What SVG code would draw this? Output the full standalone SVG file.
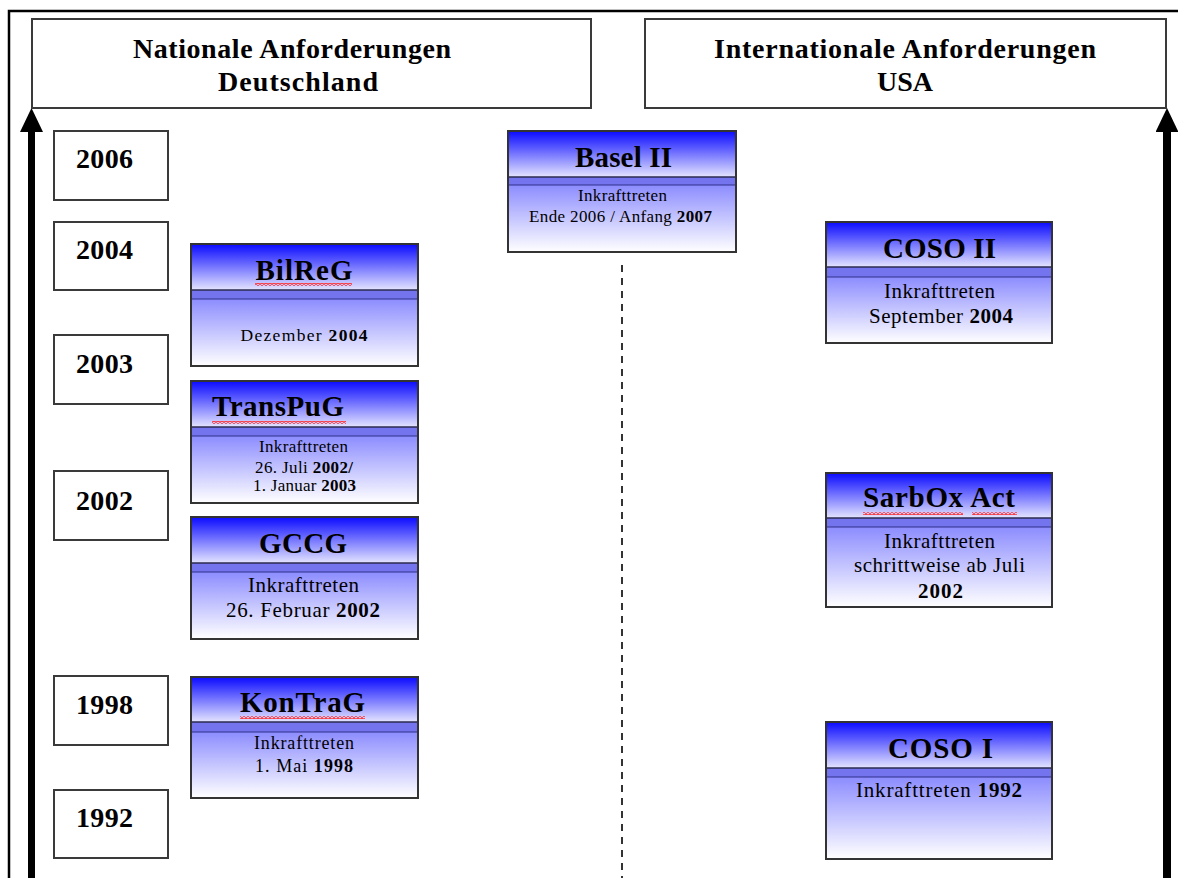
<svg xmlns="http://www.w3.org/2000/svg" width="1178" height="878" viewBox="0 0 1178 878">
<style>
text{font-family:"Liberation Serif","Times New Roman",serif;fill:#000}
.hd{font-size:28px;font-weight:bold;text-anchor:middle}
.yr{font-size:28px;font-weight:bold}
.tt{font-size:29px;font-weight:bold;text-anchor:middle}
.bd{text-anchor:middle}
.b{font-weight:bold}
.box{fill:#fff;stroke:#3a3a3a;stroke-width:2}
.out{fill:none;stroke:#333;stroke-width:2}
.l1{stroke:#2a2a50;stroke-width:1.5}
.l2{stroke:#30308a;stroke-width:1.2}
.band{fill:#7474ee}
.sq{fill:url(#sq)}
</style>
<defs>
<linearGradient id="gh" x1="0" y1="0" x2="0" y2="1"><stop offset="0" stop-color="#0a0aff"/><stop offset="1" stop-color="#e4e4ff"/></linearGradient>
<linearGradient id="gb" x1="0" y1="0" x2="0" y2="1"><stop offset="0" stop-color="#8c8cff"/><stop offset="1" stop-color="#ffffff"/></linearGradient>
<pattern id="sq" width="4" height="3" patternUnits="userSpaceOnUse"><path d="M0,2.5 L2,0.5 L4,2.5" fill="none" stroke="#ff2a2a" stroke-width="1.1"/></pattern>
<marker id="ah" viewBox="0 0 24 23" refX="1" refY="11.5" markerWidth="24" markerHeight="23" markerUnits="userSpaceOnUse" orient="auto"><path d="M0,0 L24,11.5 L0,23 z" fill="#000"/></marker>
</defs>
<rect width="1178" height="878" fill="#fff"/>
<path d="M9,878 V11 H1178" fill="none" stroke="#000" stroke-width="2.5"/>

<g id="connectors">
<line x1="31.5" y1="878" x2="31.5" y2="131" stroke="#000" stroke-width="7" marker-end="url(#ah)"/>
<line x1="1167" y1="878" x2="1167" y2="131" stroke="#000" stroke-width="8" marker-end="url(#ah)"/>
<line x1="622" y1="265" x2="622" y2="878" stroke="#333" stroke-width="2" stroke-dasharray="7 6"/>
</g>

<g id="header-de">
<rect class="box" x="32" y="19" width="559" height="89"/>
<text class="hd" x="292" y="58" textLength="318">Nationale Anforderungen</text>
<text class="hd" x="298" y="91" textLength="160">Deutschland</text>
</g>
<g id="header-us">
<rect class="box" x="645" y="19" width="521" height="89"/>
<text class="hd" x="905" y="58" textLength="382">Internationale Anforderungen</text>
<text class="hd" x="905" y="91" textLength="56">USA</text>
</g>

<g id="y2006"><rect class="box" x="54" y="131" width="114" height="69"/><text class="yr" x="76" y="168" textLength="57">2006</text></g>
<g id="y2004"><rect class="box" x="54" y="222" width="114" height="68"/><text class="yr" x="76" y="259" textLength="57">2004</text></g>
<g id="y2003"><rect class="box" x="54" y="335" width="114" height="69"/><text class="yr" x="76" y="373" textLength="57">2003</text></g>
<g id="y2002"><rect class="box" x="54" y="471" width="114" height="69"/><text class="yr" x="76" y="510" textLength="57">2002</text></g>
<g id="y1998"><rect class="box" x="54" y="676" width="114" height="69"/><text class="yr" x="76" y="714" textLength="57">1998</text></g>
<g id="y1992"><rect class="box" x="54" y="790" width="114" height="68"/><text class="yr" x="76" y="827" textLength="57">1992</text></g>

<g id="bilreg">
<rect x="191" y="244" width="227" height="46" fill="url(#gh)"/>
<rect class="band" x="191" y="290" width="227" height="9"/>
<rect x="191" y="299" width="227" height="67" fill="url(#gb)"/>
<line class="l1" x1="191" y1="290" x2="418" y2="290"/><line class="l2" x1="191" y1="299" x2="418" y2="299"/>
<rect class="out" x="191" y="244" width="227" height="122"/>
<text class="tt" x="304" y="280" textLength="97">BilReG</text>
<rect class="sq" x="255" y="283" width="97" height="3"/>
<text class="bd" x="304" y="341" font-size="17.5" textLength="127">Dezember <tspan class="b">2004</tspan></text>
</g>

<g id="transpug">
<rect x="191" y="381" width="227" height="46" fill="url(#gh)"/>
<rect class="band" x="191" y="427" width="227" height="9"/>
<rect x="191" y="436" width="227" height="67" fill="url(#gb)"/>
<line class="l1" x1="191" y1="427" x2="418" y2="427"/><line class="l2" x1="191" y1="436" x2="418" y2="436"/>
<rect class="out" x="191" y="381" width="227" height="122"/>
<text x="212" y="416" font-size="29" font-weight="bold" textLength="132">TransPuG</text>
<rect class="sq" x="212" y="421" width="134" height="3"/>
<text class="bd" x="303.5" y="452" font-size="17" textLength="89">Inkrafttreten</text>
<text class="bd" x="304" y="473" font-size="17" textLength="98">26. Juli <tspan class="b">2002/</tspan></text>
<text class="bd" x="304.5" y="491" font-size="17" textLength="103">1. Januar <tspan class="b">2003</tspan></text>
</g>

<g id="gccg">
<rect x="191" y="517" width="227" height="46" fill="url(#gh)"/>
<rect class="band" x="191" y="563" width="227" height="9"/>
<rect x="191" y="572" width="227" height="67" fill="url(#gb)"/>
<line class="l1" x1="191" y1="563" x2="418" y2="563"/><line class="l2" x1="191" y1="572" x2="418" y2="572"/>
<rect class="out" x="191" y="517" width="227" height="122"/>
<text class="tt" x="303" y="553" textLength="88">GCCG</text>
<text class="bd" x="303.5" y="592" font-size="21" textLength="111">Inkrafttreten</text>
<text class="bd" x="303" y="617" font-size="21" textLength="154">26. Februar <tspan class="b">2002</tspan></text>
</g>

<g id="kontrag">
<rect x="191" y="677" width="227" height="45" fill="url(#gh)"/>
<rect class="band" x="191" y="722" width="227" height="10"/>
<rect x="191" y="732" width="227" height="66" fill="url(#gb)"/>
<line class="l1" x1="191" y1="722" x2="418" y2="722"/><line class="l2" x1="191" y1="732" x2="418" y2="732"/>
<rect class="out" x="191" y="677" width="227" height="121"/>
<text class="tt" x="302.5" y="712" textLength="125">KonTraG</text>
<rect class="sq" x="240" y="716" width="125" height="3"/>
<text class="bd" x="304" y="749" font-size="18" textLength="100">Inkrafttreten</text>
<text class="bd" x="304" y="772" font-size="18" textLength="98">1. Mai <tspan class="b">1998</tspan></text>
</g>

<g id="basel2">
<rect x="508" y="131" width="228" height="46" fill="url(#gh)"/>
<rect class="band" x="508" y="177" width="228" height="8"/>
<rect x="508" y="185" width="228" height="67" fill="url(#gb)"/>
<line class="l1" x1="508" y1="177" x2="736" y2="177"/><line class="l2" x1="508" y1="185" x2="736" y2="185"/>
<rect class="out" x="508" y="131" width="228" height="121"/>
<text class="tt" x="623.5" y="167" textLength="97">Basel II</text>
<text class="bd" x="622.5" y="201" font-size="17" textLength="89">Inkrafttreten</text>
<text class="bd" x="620.5" y="222" font-size="17" textLength="183">Ende 2006 / Anfang <tspan class="b">2007</tspan></text>
</g>

<g id="coso2">
<rect x="826" y="222" width="226" height="45" fill="url(#gh)"/>
<rect class="band" x="826" y="267" width="226" height="10"/>
<rect x="826" y="277" width="226" height="66" fill="url(#gb)"/>
<line class="l1" x1="826" y1="267" x2="1052" y2="267"/><line class="l2" x1="826" y1="277" x2="1052" y2="277"/>
<rect class="out" x="826" y="222" width="226" height="121"/>
<text class="tt" x="939.5" y="258" textLength="113">COSO II</text>
<text class="bd" x="939.5" y="298" font-size="21" textLength="111">Inkrafttreten</text>
<text class="bd" x="941" y="323" font-size="21" textLength="144">September <tspan class="b">2004</tspan></text>
</g>

<g id="sarbox">
<rect x="826" y="473" width="226" height="45" fill="url(#gh)"/>
<rect class="band" x="826" y="518" width="226" height="9"/>
<rect x="826" y="527" width="226" height="80" fill="url(#gb)"/>
<line class="l1" x1="826" y1="518" x2="1052" y2="518"/><line class="l2" x1="826" y1="527" x2="1052" y2="527"/>
<rect class="out" x="826" y="473" width="226" height="134"/>
<text class="tt" x="939" y="507" textLength="152">SarbOx Act</text>
<rect class="sq" x="863" y="512" width="100" height="3"/>
<rect class="sq" x="972" y="512" width="45" height="3"/>
<text class="bd" x="939.5" y="548" font-size="21" textLength="111">Inkrafttreten</text>
<text class="bd" x="939.5" y="572" font-size="21" textLength="171">schrittweise ab Juli</text>
<text class="bd b" x="940.5" y="598" font-size="21" textLength="45">2002</text>
</g>

<g id="coso1">
<rect x="826" y="722" width="226" height="46" fill="url(#gh)"/>
<rect class="band" x="826" y="768" width="226" height="9"/>
<rect x="826" y="777" width="226" height="82" fill="url(#gb)"/>
<line class="l1" x1="826" y1="768" x2="1052" y2="768"/><line class="l2" x1="826" y1="777" x2="1052" y2="777"/>
<rect class="out" x="826" y="722" width="226" height="137"/>
<text class="tt" x="940.5" y="758" textLength="105">COSO I</text>
<text class="bd" x="939" y="797" font-size="21" textLength="166">Inkrafttreten <tspan class="b">1992</tspan></text>
</g>
</svg>
